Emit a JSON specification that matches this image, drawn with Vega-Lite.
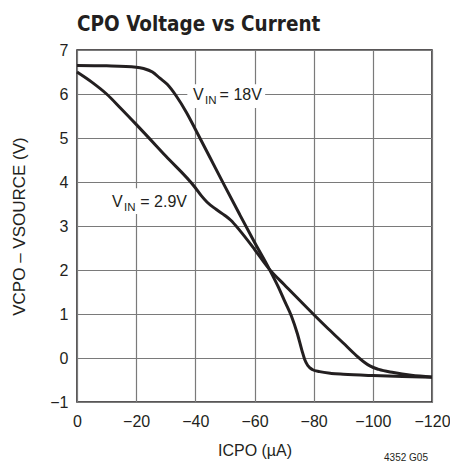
{
  "$schema": "https://vega.github.io/schema/vega-lite/v6.json",
  "width": 355,
  "height": 352,
  "autosize": {"type": "none"},
  "padding": {"left": 77, "top": 50, "right": 18, "bottom": 63},
  "background": "white",
  "title": {
    "text": "CPO Voltage vs Current",
    "anchor": "start",
    "frame": "group",
    "font": "Liberation Sans Narrow, DejaVu Sans Condensed, sans-serif",
    "fontSize": 20.5,
    "fontWeight": "bold",
    "color": "#231f20",
    "offset": 7
  },
  "config": {
    "view": {"stroke": "#231f20", "strokeWidth": 1.5},
    "axis": {
      "labelFont": "Liberation Sans, Arial, sans-serif",
      "titleFont": "Liberation Sans, Arial, sans-serif",
      "labelFontSize": 16,
      "titleFontSize": 16,
      "titleFontWeight": "normal",
      "labelColor": "#231f20",
      "titleColor": "#231f20",
      "gridColor": "#7a7a7a",
      "gridWidth": 1.2,
      "gridOpacity": 1,
      "domain": false,
      "ticks": false,
      "labelFlush": false,
      "labelOverlap": false
    }
  },
  "datasets": {
    "curves": [
      {"series": "18V", "I": 0, "V": 6.65},
      {"series": "18V", "I": -10, "V": 6.64},
      {"series": "18V", "I": -20, "V": 6.61},
      {"series": "18V", "I": -22.5, "V": 6.58},
      {"series": "18V", "I": -25.5, "V": 6.5},
      {"series": "18V", "I": -28, "V": 6.36},
      {"series": "18V", "I": -30.5, "V": 6.22},
      {"series": "18V", "I": -33.5, "V": 5.96},
      {"series": "18V", "I": -37, "V": 5.58},
      {"series": "18V", "I": -40, "V": 5.2},
      {"series": "18V", "I": -45, "V": 4.55},
      {"series": "18V", "I": -50, "V": 3.9},
      {"series": "18V", "I": -55, "V": 3.26},
      {"series": "18V", "I": -60, "V": 2.63},
      {"series": "18V", "I": -65, "V": 2.02},
      {"series": "18V", "I": -68, "V": 1.62},
      {"series": "18V", "I": -70, "V": 1.32},
      {"series": "18V", "I": -72.5, "V": 0.95},
      {"series": "18V", "I": -74.5, "V": 0.55},
      {"series": "18V", "I": -76, "V": 0.18},
      {"series": "18V", "I": -77, "V": -0.04},
      {"series": "18V", "I": -78, "V": -0.17},
      {"series": "18V", "I": -79.5, "V": -0.26},
      {"series": "18V", "I": -82, "V": -0.31},
      {"series": "18V", "I": -86, "V": -0.35},
      {"series": "18V", "I": -90, "V": -0.37},
      {"series": "18V", "I": -100, "V": -0.4},
      {"series": "18V", "I": -110, "V": -0.42},
      {"series": "18V", "I": -120, "V": -0.44},
      {"series": "2.9V", "I": 0, "V": 6.5},
      {"series": "2.9V", "I": -5, "V": 6.27},
      {"series": "2.9V", "I": -10, "V": 6.0},
      {"series": "2.9V", "I": -15, "V": 5.66},
      {"series": "2.9V", "I": -20, "V": 5.31},
      {"series": "2.9V", "I": -30, "V": 4.59},
      {"series": "2.9V", "I": -40, "V": 3.87},
      {"series": "2.9V", "I": -42, "V": 3.69},
      {"series": "2.9V", "I": -44, "V": 3.54},
      {"series": "2.9V", "I": -47, "V": 3.38},
      {"series": "2.9V", "I": -50, "V": 3.24},
      {"series": "2.9V", "I": -52, "V": 3.13},
      {"series": "2.9V", "I": -55, "V": 2.9},
      {"series": "2.9V", "I": -60, "V": 2.47},
      {"series": "2.9V", "I": -65, "V": 2.02},
      {"series": "2.9V", "I": -70, "V": 1.67},
      {"series": "2.9V", "I": -75, "V": 1.33},
      {"series": "2.9V", "I": -80, "V": 0.99},
      {"series": "2.9V", "I": -85, "V": 0.66},
      {"series": "2.9V", "I": -90, "V": 0.34},
      {"series": "2.9V", "I": -94.5, "V": 0.05},
      {"series": "2.9V", "I": -97, "V": -0.09},
      {"series": "2.9V", "I": -99, "V": -0.18},
      {"series": "2.9V", "I": -102, "V": -0.26},
      {"series": "2.9V", "I": -107, "V": -0.33},
      {"series": "2.9V", "I": -113, "V": -0.39},
      {"series": "2.9V", "I": -120, "V": -0.43}
    ],
    "boxes": [
      {"series": "18V", "x1": -37.3, "x2": -63.6, "y1": 6.22, "y2": 5.68},
      {"series": "2.9V", "x1": -10.5, "x2": -37.6, "y1": 3.86, "y2": 3.27}
    ],
    "labels": [
      {"series": "18V", "role": "main", "x": -39.2, "y": 5.86, "text": "V"},
      {"series": "18V", "role": "sub", "x": -43.3, "y": 5.86, "text": "IN"},
      {"series": "18V", "role": "main", "x": -48.2, "y": 5.86, "text": "= 18V"},
      {"series": "2.9V", "role": "main", "x": -11.8, "y": 3.43, "text": "V"},
      {"series": "2.9V", "role": "sub", "x": -15.9, "y": 3.43, "text": "IN"},
      {"series": "2.9V", "role": "main", "x": -21.4, "y": 3.43, "text": "= 2.9V"}
    ]
  },
  "layer": [
    {
      "data": {"name": "boxes"},
      "mark": {"type": "rect", "fill": "white", "stroke": null},
      "encoding": {
        "x": {"field": "x1", "type": "quantitative", "scale": {"domain": [-120, 0], "reverse": true, "nice": false}},
        "x2": {"field": "x2"},
        "y": {"field": "y1", "type": "quantitative", "scale": {"domain": [-1, 7], "nice": false}},
        "y2": {"field": "y2"}
      }
    },
    {
      "data": {"name": "curves"},
      "mark": {"type": "line", "color": "#231f20", "strokeWidth": 3, "interpolate": "monotone"},
      "encoding": {
        "x": {
          "field": "I", "type": "quantitative",
          "scale": {"domain": [-120, 0], "reverse": true, "nice": false},
          "axis": {"values": [0, -20, -40, -60, -80, -100, -120], "title": "ICPO (µA)", "labelPadding": 11, "titlePadding": 13, "grid": true}
        },
        "y": {
          "field": "V", "type": "quantitative",
          "scale": {"domain": [-1, 7], "nice": false},
          "axis": {"values": [-1, 0, 1, 2, 3, 4, 5, 6, 7], "title": "VCPO – VSOURCE (V)", "titleFontSize": 17, "labelPadding": 9, "titlePadding": 21, "grid": true}
        },
        "detail": {"field": "series"}
      }
    },
    {
      "data": {"name": "labels"},
      "transform": [{"filter": "datum.role === 'main'"}],
      "mark": {"type": "text", "align": "left", "baseline": "alphabetic", "font": "Liberation Sans, Arial, sans-serif", "fontSize": 16, "color": "#231f20"},
      "encoding": {
        "x": {"field": "x", "type": "quantitative"},
        "y": {"field": "y", "type": "quantitative"},
        "text": {"field": "text"}
      }
    },
    {
      "data": {"name": "labels"},
      "transform": [{"filter": "datum.role === 'sub'"}],
      "mark": {"type": "text", "align": "left", "baseline": "alphabetic", "dy": 4, "font": "Liberation Sans, Arial, sans-serif", "fontSize": 11.5, "color": "#231f20"},
      "encoding": {
        "x": {"field": "x", "type": "quantitative"},
        "y": {"field": "y", "type": "quantitative"},
        "text": {"field": "text"}
      }
    },
    {
      "data": {"values": [{"note": "4352 G05", "x": -120, "y": -1}]},
      "mark": {"type": "text", "align": "right", "baseline": "alphabetic", "dy": 59, "dx": -4, "font": "Liberation Sans, Arial, sans-serif", "fontSize": 10, "color": "#231f20"},
      "encoding": {
        "x": {"field": "x", "type": "quantitative"},
        "y": {"field": "y", "type": "quantitative"},
        "text": {"field": "note"}
      }
    }
  ]
}
